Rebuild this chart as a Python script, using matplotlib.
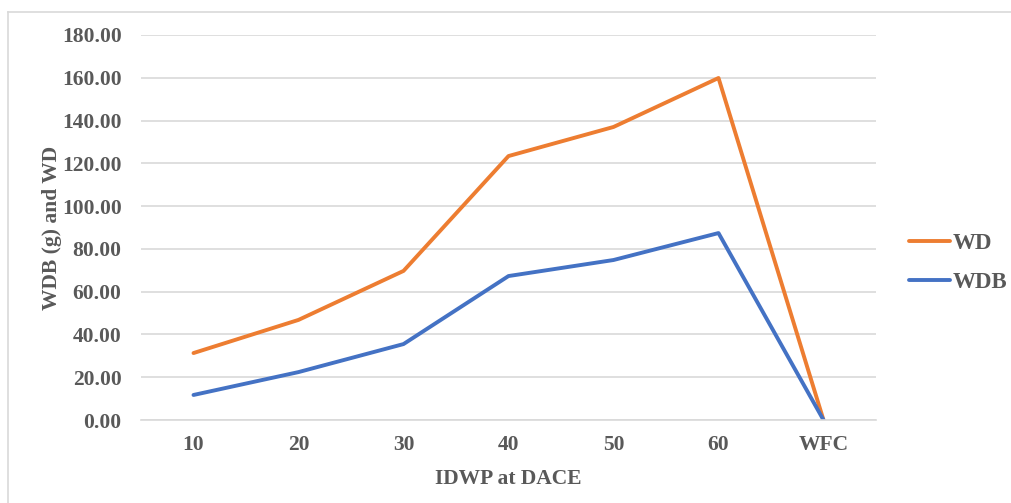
import matplotlib.pyplot as plt
from matplotlib.lines import Line2D

# data
categories = ["10", "20", "30", "40", "50", "60", "WFC"]
wd = [31.3, 46.8, 69.7, 123.4, 137.0, 159.9, 0.0]
wdb = [11.7, 22.4, 35.5, 67.3, 74.8, 87.4, 0.0]

plt.rcParams["font.family"] = ["Liberation Serif", "DejaVu Serif"]
plt.rcParams["font.weight"] = "bold"
text_col = "#595959"

fig = plt.figure(figsize=(10.12, 5.03), dpi=100)
W, H = 1012, 503
ax = fig.add_axes([141 / W, 1 - 420 / H, 735 / W, 385 / H])

x = list(range(len(categories)))
ax.plot(x, wd, color="#ED7D31", lw=2.8, label="WD", solid_capstyle="round")
ax.plot(x, wdb, color="#4472C4", lw=2.8, label="WDB", solid_capstyle="round")

ax.set_xlim(-0.5, len(categories) - 0.5)
ax.set_ylim(0, 180)
ax.set_yticks(range(0, 181, 20))
ax.set_yticklabels([f"{v:.2f}" for v in range(0, 181, 20)])
ax.set_xticks(x)
ax.set_xticklabels(categories)
ax.grid(axis="y", color="#D9D9D9", lw=1.2)
ax.set_axisbelow(True)
for s in ["top", "right", "left"]:
    ax.spines[s].set_visible(False)
ax.spines["bottom"].set_color("#D9D9D9")
ax.spines["bottom"].set_linewidth(1.2)
ax.tick_params(length=0, labelsize=15.5, colors=text_col, pad=11)
ax.tick_params(axis="y", pad=14)
for lab in ax.get_xticklabels() + ax.get_yticklabels():
    lab.set_fontweight("bold")

ax.set_xlabel("IDWP at DACE", fontsize=15.5, fontweight="bold", color=text_col, labelpad=10)
ax.set_ylabel("WDB (g) and WD", fontsize=15.5, fontweight="bold", color=text_col, labelpad=0)

leg = fig.legend(*ax.get_legend_handles_labels(), loc="center left",
                 bbox_to_anchor=(909 / W, 1 - 263 / H), frameon=False,
                 borderpad=0, borderaxespad=0,
                 fontsize=16.5, handlelength=1.8, handletextpad=0.12, labelspacing=0.8)
for t in leg.get_texts():
    t.set_color(text_col)
    t.set_fontweight("bold")

# light chart border (top and left edges)
fig.add_artist(Line2D([8 / W, 8 / W], [0, 1 - 12 / H], color="#D9D9D9", lw=1.2))
fig.add_artist(Line2D([8 / W, 1], [1 - 12 / H, 1 - 12 / H], color="#D9D9D9", lw=1.2))

fig.savefig("out.png", dpi=100)
